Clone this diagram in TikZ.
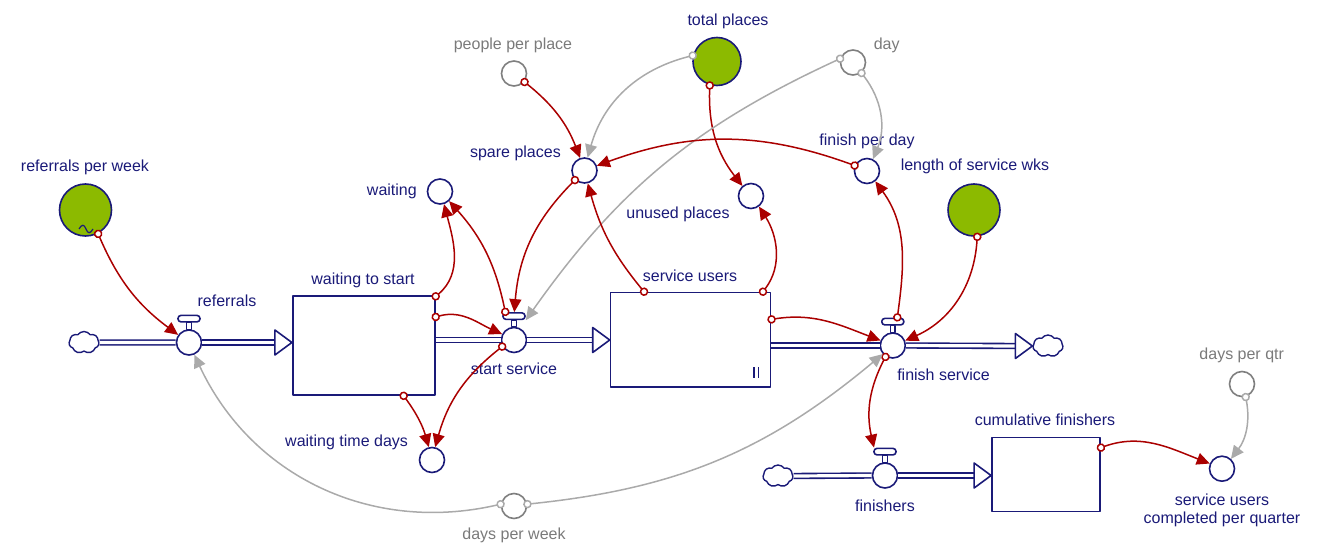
\documentclass[tikz,border=0pt]{standalone}
\usepackage{fontspec}
\setmainfont{Liberation Sans}
\usetikzlibrary{arrows.meta,positioning,shapes.symbols}
\definecolor{navy}{HTML}{1A1A78}
\definecolor{linkred}{HTML}{AA0000}
\definecolor{constgreen}{HTML}{8CBA00}
\definecolor{ghost}{HTML}{7F7F7F}
\definecolor{ghostlink}{HTML}{AAAAAA}
\definecolor{ghosttext}{HTML}{7A7A7A}
\begin{document}
\begin{tikzpicture}[x=1pt,y=-1pt,line join=round,
    font=\fontsize{16}{19}\selectfont,
    every node/.style={text=navy},
    stock/.style={rectangle,draw=navy,line width=1.6pt,fill=white,inner sep=0pt},
    aux/.style={circle,draw=navy,line width=1.6pt,fill=white,minimum size=25pt,inner sep=0pt},
    constant/.style={aux,fill=constgreen,minimum size=52pt},
    ghostaux/.style={aux,draw=ghost},
    valvebar/.style={rectangle,rounded corners=3pt,draw=navy,line width=1.6pt,fill=white,
      minimum width=22pt,minimum height=6.5pt,inner sep=0pt},
    source/.style={cloud,cloud puffs=7,cloud puff arc=110,aspect=1.4,draw=navy,line width=1.4pt,
      fill=white,minimum width=30pt,minimum height=22pt,inner sep=0pt},
    pipe/.style={draw=navy,line width=1.6pt,double=white,double distance=3.2pt},
    flowhead/.style={draw=navy,line width=1.6pt,fill=white},
    link/.style={draw=linkred,line width=1.5pt,shorten <=-4pt,
      arrows={Circle[length=8.5pt,fill=white]-Triangle[length=13pt,width=12pt]}},
    glink/.style={link,draw=ghostlink},
    lbl/.style={inner sep=0pt},
    glbl/.style={lbl,text=ghosttext}]
\useasboundingbox (0,0) rectangle (1334,556);

% stocks
\node[stock,minimum width=142pt,minimum height=99pt] (wts) at (363.7,345.3) {};
\node[stock,minimum width=160pt,minimum height=94pt] (sus) at (690.5,339.7) {};
\node[stock,minimum width=108pt,minimum height=74pt] (cum) at (1045.9,474.5) {};
\draw[navy,line width=1.2pt] (754,367) -- (754,378) (758.5,367) -- (758.5,378);

% clouds and valves
\node[source] (srcA) at (84,342.5) {};
\node[source] (sinkB) at (1048,346) {};
\node[source] (srcC) at (778,476) {};
\node[aux] (refv) at (189,342.5) {};
\node[aux] (startv) at (514,340) {};
\node[aux] (finishv) at (892.8,345.5) {};
\node[aux] (finishersv) at (885,475.5) {};
\node[valvebar,above=6.5pt of refv] (refbar) {};
\node[valvebar,above=6.5pt of startv] (startbar) {};
\node[valvebar,above=6.5pt of finishv] (finishbar) {};
\node[valvebar,above=6.5pt of finishersv] (finishersbar) {};
\foreach \v in {ref,start,finish,finishers}{
  \draw[navy,line width=1.3pt,fill=white] ([xshift=-2.2pt]\v bar.south) rectangle ([xshift=2.2pt]\v v.north);
}

% pipes
\coordinate (refhead) at (wts.west |- refv);
\coordinate (starthead) at (sus.west |- startv);
\coordinate (finishhead) at (sinkB.west);
\coordinate (finishershead) at (cum.west |- finishersv);
\draw[pipe] (srcA.east) -- (refv.west);
\draw[pipe] (refv.east) -- ([xshift=-17pt]refhead);
\draw[pipe] (wts.east |- startv) -- (startv.west);
\draw[pipe] (startv.east) -- ([xshift=-17pt]starthead);
\draw[pipe] (sus.east |- finishv) -- (finishv.west);
\draw[pipe] (finishv.east) -- ([xshift=-17pt]finishhead);
\draw[pipe] (srcC.east) -- (finishersv.west);
\draw[pipe] (finishersv.east) -- ([xshift=-17pt]finishershead);
\foreach \h in {refhead,starthead,finishhead,finishershead}
  \draw[flowhead] (\h) -- ++(-17,-12.5) -- ++(0,25) -- cycle;

% variables
\node[aux] (waiting) at (440,191.5) {};
\node[aux] (spare) at (584.5,170.5) {};
\node[aux] (unused) at (751,196) {};
\node[aux] (fpd) at (867,171) {};
\node[aux] (wtd) at (432,460) {};
\node[aux] (suc) at (1222,468.7) {};
\node[constant] (rpw) at (85.5,210) {};
\node[constant,minimum size=48pt] (total) at (717,61.5) {};
\node[constant] (los) at (974,210) {};
\node[ghostaux] (ppp) at (514,73.5) {};
\node[ghostaux] (day) at (853,62.5) {};
\node[ghostaux] (dpq) at (1242,384) {};
\node[ghostaux] (dpw) at (514,506) {};
\draw[navy,line width=1.2pt] (79,229) .. controls (82,224) and (84,224) .. (86,229)
  .. controls (88,234) and (90,234) .. (93,229);

% labels
\node[lbl] at (85,167) {referrals per week};
\node[lbl] at (227,301) {referrals};
\node[lbl] at (363,280) {waiting to start};
\node[lbl,anchor=east] at (417,191) {waiting};
\node[lbl,anchor=east] at (561,153) {spare places};
\node[glbl] at (513,45) {people per place};
\node[lbl] at (728,21.5) {total places};
\node[glbl] at (886.7,45) {day};
\node[lbl] at (867,141.7) {finish per day};
\node[lbl] at (975,166.5) {length of service wks};
\node[lbl] at (678,214) {unused places};
\node[lbl] at (690,276) {service users};
\node[lbl] at (514,369) {start service};
\node[lbl] at (943.5,374.5) {finish service};
\node[lbl] at (346.6,442.5) {waiting time days};
\node[glbl] at (514,535) {days per week};
\node[lbl] at (1045,420) {cumulative finishers};
\node[lbl] at (885,505.5) {finishers};
\node[glbl] at (1241.7,355) {days per qtr};
\node[lbl,align=center,font=\fontsize{16}{18}\selectfont] at (1222,510) {service users\\completed per quarter};

% links
\draw[link] (rpw.-62) to[bend right=15] (refv);
\draw[link] (ppp.-39) to[bend left=15] (spare);
\draw[glink] (total.166) to[bend right=30] (spare);
\draw[link] (total.-107) to[bend right=20] (unused);
\draw[glink] (day.163) to[bend right=15] (startbar.south east);
\draw[glink] (day.-51) to[bend left=30] (fpd);
\draw[link] (fpd.156) to[bend right=20] (spare);
\draw[link] (spare.-135) to[bend right=20] (startbar);
\draw[link] (startbar.155) to[bend right=15] (waiting);
\draw[link] ([yshift=-1.5pt]wts.north east) to[out=-45,in=200,relative] (waiting);
\draw[link] ([yshift=-22pt]wts.north east) to[out=30,in=170,relative] (startv);
\draw[link] ([xshift=-32pt]wts.south east) to[bend left=10] (wtd);
\draw[link] (startv.-151) to[bend right=18] (wtd);
\draw[link] ([xshift=34.5pt]sus.north west) to[bend left=12] (spare);
\draw[link] ([xshift=-8.5pt]sus.north east) to[out=-40,in=210,relative] (unused);
\draw[link] ([yshift=-27.5pt]sus.north east) to[out=20,in=170,relative] (finishv);
\draw[link] ([xshift=4.5pt]finishbar.north) to[out=-17,in=207,relative] (fpd);
\draw[link] (los.-83) to[bend left=31] (finishv);
\draw[link] (finishv.-123) to[bend right=20] ([xshift=-11pt]finishersbar.north);
\draw[link] ([yshift=-11pt]cum.north east) to[out=28,in=167,relative] (suc);
\draw[glink] (dpq.-74) to[bend left=24] (suc);
\draw[glink] (dpw.172) to[bend left=39] (refv);
\draw[glink] (dpw.8) to[bend right=17] (finishv);
\end{tikzpicture}
\end{document}
